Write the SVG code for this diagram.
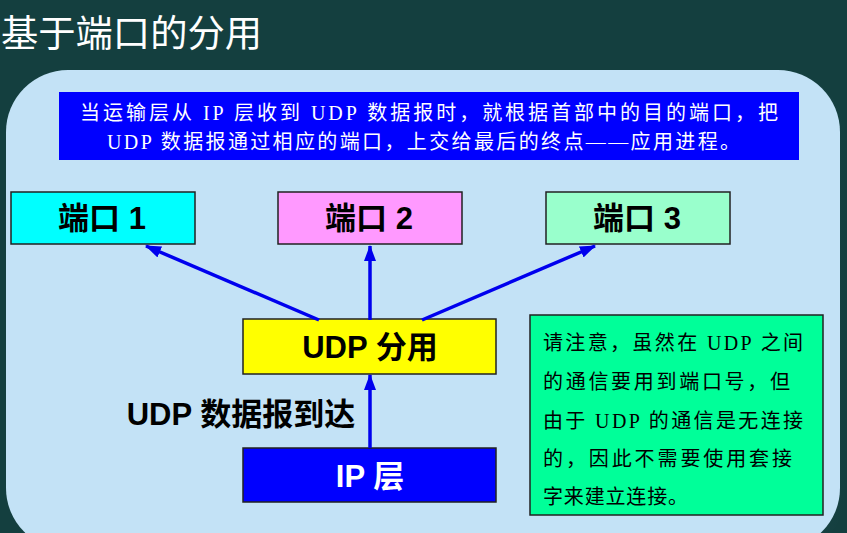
<svg xmlns="http://www.w3.org/2000/svg" width="847" height="533" viewBox="0 0 847 533">
<defs>
<style>
.box{stroke:#222;stroke-width:1.5}
.lbl{font-family:"Liberation Sans","Noto Sans CJK SC",sans-serif;font-weight:bold;font-size:31px;text-anchor:middle}
.serif{font-family:"Liberation Serif","Noto Sans CJK SC",serif;font-size:20px}
.conn{stroke:#0000ee;stroke-width:3.5;fill:none}
</style>
<marker id="ah" markerUnits="userSpaceOnUse" markerWidth="16" markerHeight="12" refX="15" refY="6" orient="auto">
<path d="M0,0 L16,6 L0,12 z" fill="#0000ee"/>
</marker>
<linearGradient id="sh" x1="0" y1="0" x2="1" y2="0">
<stop offset="0" stop-color="#5a8fb0"/>
<stop offset="1" stop-color="#143f3f"/>
</linearGradient>
</defs>
<rect width="847" height="533" fill="#143f3f"/>
<text x="1" y="47" font-family="'Noto Sans CJK SC',sans-serif" font-size="37" fill="#fff" textLength="261" lengthAdjust="spacingAndGlyphs">基于端口的分用</text>
<rect x="12" y="74" width="834" height="480" rx="62" fill="url(#sh)" opacity="0.8"/>
<rect x="6" y="70" width="834" height="480" rx="62" fill="#c3e2f6"/>
<g id="info">
<rect x="59" y="92" width="740" height="68" fill="#0000ff"/>
<text class="serif" x="80" y="120" fill="#fff" textLength="698" lengthAdjust="spacing">当运输层从 IP 层收到 UDP 数据报时，就根据首部中的目的端口，把</text>
<text class="serif" x="107" y="149" fill="#fff" textLength="633" lengthAdjust="spacing">UDP 数据报通过相应的端口，上交给最后的终点——应用进程。</text>
</g>
<g id="port1"><rect class="box" x="11" y="192" width="184" height="52" fill="#00ffff"/><text class="lbl" x="102" y="229">端口 1</text></g>
<g id="port2"><rect class="box" x="278" y="192" width="184" height="52" fill="#ff99ff"/><text class="lbl" x="369" y="229">端口 2</text></g>
<g id="port3"><rect class="box" x="546" y="192" width="184" height="52" fill="#99ffcc"/><text class="lbl" x="637" y="229">端口 3</text></g>
<g id="udp"><rect class="box" x="243" y="319" width="253" height="55" fill="#ffff00"/><text class="lbl" x="370" y="358">UDP 分用</text></g>
<g id="ip"><rect class="box" x="243" y="448" width="253" height="54" fill="#0000ff"/><text class="lbl" x="370" y="487" fill="#fff">IP 层</text></g>
<g id="arrive"><text class="lbl" x="241" y="425">UDP 数据报到达</text></g>
<g id="connectors">
<line class="conn" x1="319" y1="320" x2="146" y2="246" marker-end="url(#ah)"/>
<line class="conn" x1="370" y1="320" x2="370" y2="246" marker-end="url(#ah)"/>
<line class="conn" x1="422" y1="320" x2="595" y2="246" marker-end="url(#ah)"/>
<line class="conn" x1="370" y1="448" x2="370" y2="375" marker-end="url(#ah)"/>
</g>
<g id="note">
<rect x="530" y="315" width="293" height="200" fill="#00ff99" stroke="#222" stroke-width="1.5"/>
<text class="serif" x="543" y="350" textLength="260" lengthAdjust="spacing">请注意，虽然在 UDP 之间</text>
<text class="serif" x="543" y="389" textLength="247" lengthAdjust="spacing">的通信要用到端口号，但</text>
<text class="serif" x="543" y="428" textLength="260" lengthAdjust="spacing">由于 UDP 的通信是无连接</text>
<text class="serif" x="543" y="466" textLength="249" lengthAdjust="spacing">的，因此不需要使用套接</text>
<text class="serif" x="543" y="504" textLength="145" lengthAdjust="spacing">字来建立连接。</text>
</g>
</svg>
